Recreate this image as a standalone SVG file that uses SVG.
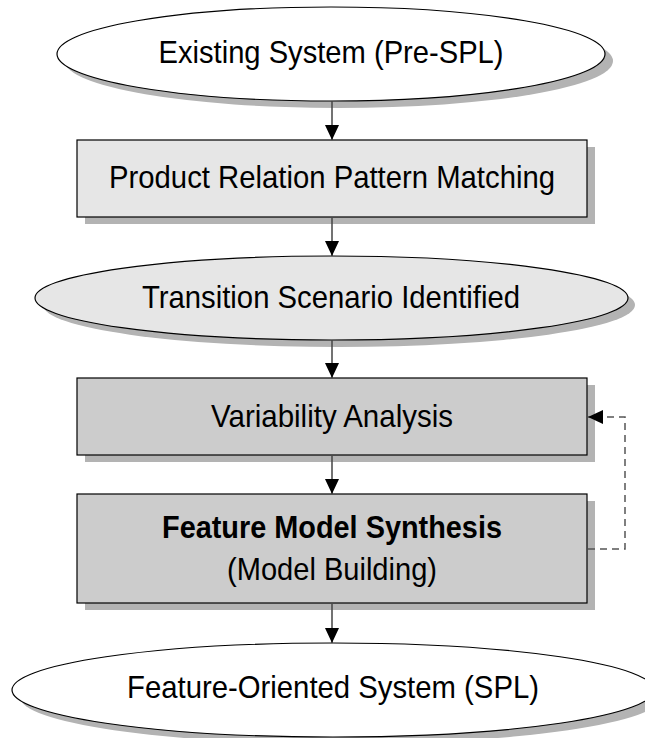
<svg xmlns="http://www.w3.org/2000/svg" width="645" height="738" viewBox="0 0 645 738">
<style>
.t{font-family:"Liberation Sans",Arial,sans-serif;font-size:30.5px;fill:#000;text-anchor:middle}
.b{font-weight:bold}
.sh{fill:#b3b3b3;stroke:none}
.n{stroke:#000;stroke-width:1.2}
.c{fill:none;stroke:#444;stroke-width:1.5}
.d{fill:none;stroke:#555;stroke-width:1.5;stroke-dasharray:7 5}
</style>
<defs>
<marker id="ah" viewBox="0 0 15 14" refX="15" refY="7" markerWidth="15" markerHeight="14" markerUnits="userSpaceOnUse" orient="auto">
<path d="M0,0 L15,7 L0,14 z" fill="#000"/>
</marker>
</defs>
<rect width="645" height="738" fill="#fff"/>
<g id="existing">
<ellipse class="sh" cx="339" cy="61" rx="274" ry="47"/>
<ellipse class="n" cx="331" cy="54" rx="274" ry="47" fill="#fff"/>
<text class="t" x="331" y="63" textLength="345" lengthAdjust="spacingAndGlyphs">Existing System (Pre-SPL)</text>
</g>
<g id="matching">
<rect class="sh" x="85" y="147" width="510" height="77"/>
<rect class="n" x="77" y="140" width="510" height="77" fill="#e6e6e6"/>
<text class="t" x="332" y="188" textLength="446" lengthAdjust="spacingAndGlyphs">Product Relation Pattern Matching</text>
</g>
<g id="scenario">
<ellipse class="sh" cx="339" cy="305" rx="296" ry="42"/>
<ellipse class="n" cx="331.5" cy="298" rx="296.5" ry="42" fill="#e6e6e6"/>
<text class="t" x="331" y="308" textLength="378" lengthAdjust="spacingAndGlyphs">Transition Scenario Identified</text>
</g>
<g id="variability">
<rect class="sh" x="85" y="385" width="510" height="77"/>
<rect class="n" x="77" y="378" width="510" height="77" fill="#cccccc"/>
<text class="t" x="332" y="427" textLength="242" lengthAdjust="spacingAndGlyphs">Variability Analysis</text>
</g>
<g id="synthesis">
<rect class="sh" x="85" y="501" width="510" height="109"/>
<rect class="n" x="77" y="494" width="510" height="109" fill="#cccccc"/>
<text class="t b" x="332" y="538" textLength="340" lengthAdjust="spacingAndGlyphs">Feature Model Synthesis</text>
<text class="t" x="332" y="580" textLength="210" lengthAdjust="spacingAndGlyphs">(Model Building)</text>
</g>
<g id="spl">
<ellipse class="sh" cx="341" cy="697" rx="321" ry="47"/>
<ellipse class="n" cx="333" cy="690" rx="321" ry="47" fill="#fff"/>
<text class="t" x="333" y="698" textLength="412" lengthAdjust="spacingAndGlyphs">Feature-Oriented System (SPL)</text>
</g>
<g id="connectors">
<path class="c" d="M332,101 V140" marker-end="url(#ah)"/>
<path class="c" d="M332,218 V256" marker-end="url(#ah)"/>
<path class="c" d="M332,340 V378" marker-end="url(#ah)"/>
<path class="c" d="M332,456 V494" marker-end="url(#ah)"/>
<path class="c" d="M332,604 V643" marker-end="url(#ah)"/>
<path class="d" d="M588,549 H625 V417 H588" marker-end="url(#ah)"/>
</g>
</svg>
